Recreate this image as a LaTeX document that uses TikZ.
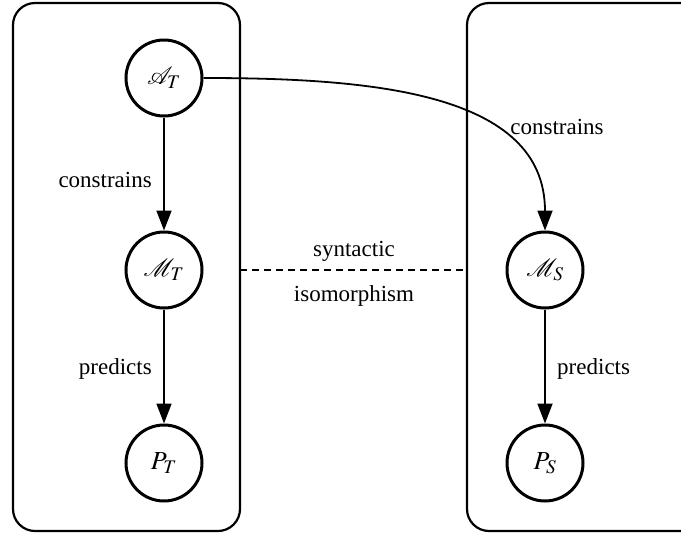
\documentclass[tikz,border=0pt]{standalone}
\usepackage{mathptmx}
\usepackage{mathrsfs}
\usepackage[no-math]{fontspec}
\setmainfont{Liberation Serif}
\usetikzlibrary{arrows.meta}
\begin{document}
\begin{tikzpicture}[x=1pt,y=-1pt,
  panel/.style={draw,line width=2.2pt,rounded corners=22pt},
  var/.style={draw,circle,line width=3pt,minimum size=76pt,inner sep=0pt,
    font=\fontsize{26}{30}\selectfont},
  rel/.style={line width=1.8pt,-{Triangle[length=20pt,width=15pt]}},
  lbl/.style={font=\fontsize{23}{27}\selectfont}]
  \useasboundingbox (0,0) rectangle (681,539);
  % two theory panels
  \draw[panel] (13,3) rectangle (240,531);
  \draw[panel] (467,3) rectangle (710,531);
  % variables
  \node[var] (AT) at (164,78)  {$\mathscr{A}_T$};
  \node[var] (MT) at (164,270) {$\mathscr{M}_T$};
  \node[var] (PT) at (164,463) {$P_T$};
  \node[var] (MS) at (545,270) {$\mathscr{M}_S$};
  \node[var] (PS) at (545,463) {$P_S$};
  % relations
  \draw[rel] (AT) -- node[lbl,left=8pt,pos=0.55] {constrains} (MT);
  \draw[rel] (MT) -- node[lbl,left=8pt,pos=0.52] {predicts} (PT);
  \draw[rel] (MS) -- node[lbl,right=8pt,pos=0.52] {predicts} (PS);
  \draw[rel] (AT.east) .. controls (370,78) and (545,92) .. (MS.north);
  \node[lbl] (c2) at (557,127) {constrains};
  % syntactic isomorphism between panels
  \coordinate (dl) at (240,270);
  \coordinate (dr) at (467,270);
  \draw[line width=1.6pt,dash pattern=on 7pt off 5pt] (dl) -- (dr);
  \node[lbl] (syn) at (354,251) {syntactic};
  \node[lbl] (iso) at (354,296) {isomorphism};
\end{tikzpicture}
\end{document}
